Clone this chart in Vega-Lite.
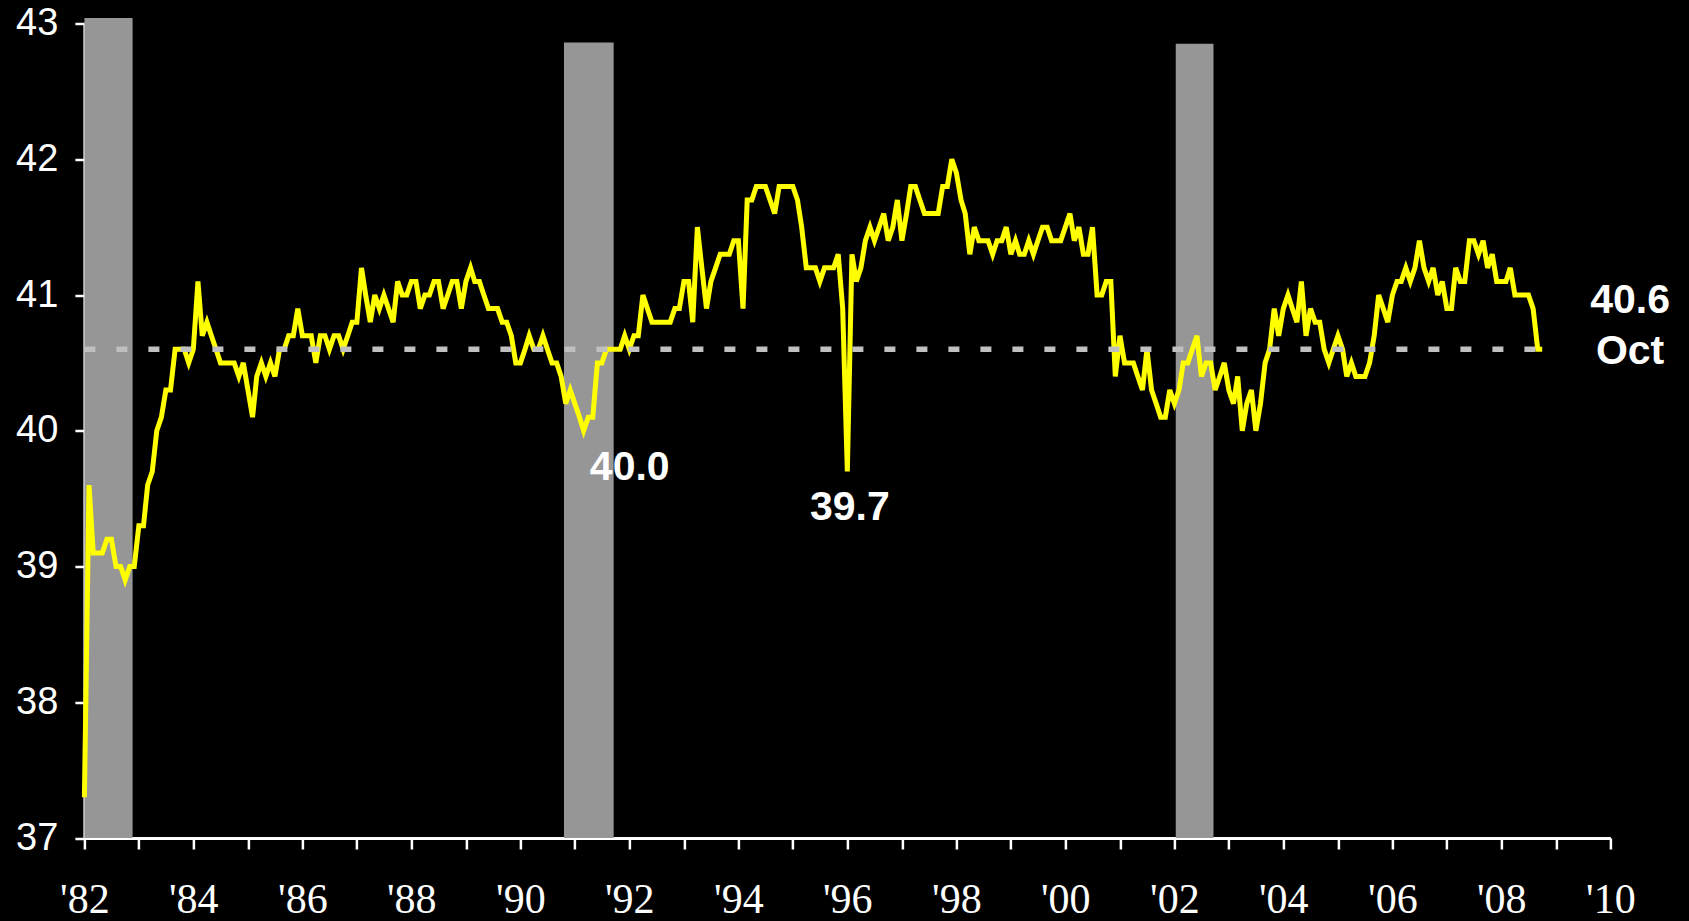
{
  "$schema": "https://vega.github.io/schema/vega-lite/v6.json",
  "width": 1526,
  "height": 814.5,
  "autosize": {"type": "none"},
  "padding": {"left": 84.4, "top": 23.5, "right": 78.6, "bottom": 83},
  "background": "#000000",
  "config": {"view": {"stroke": null}},
  "datasets": {
    "recessions": [
      {"start": "1982-01-01", "end": "1982-11-20", "top": 43.04},
      {"start": "1990-10-20", "end": "1991-09-18", "top": 42.86},
      {"start": "2002-01-10", "end": "2002-09-20", "top": 42.85}
    ],
    "hours": [
      {"d": "1982-01-01", "h": 37.3}, {"d": "1982-02-01", "h": 39.6}, {"d": "1982-03-01", "h": 39.1}, {"d": "1982-04-01", "h": 39.1}, {"d": "1982-05-01", "h": 39.1}, {"d": "1982-06-01", "h": 39.2}, {"d": "1982-07-01", "h": 39.2}, {"d": "1982-08-01", "h": 39.0}, {"d": "1982-09-01", "h": 39.0}, {"d": "1982-10-01", "h": 38.9}, {"d": "1982-11-01", "h": 39.0}, {"d": "1982-12-01", "h": 39.0},
      {"d": "1983-01-01", "h": 39.3}, {"d": "1983-02-01", "h": 39.3}, {"d": "1983-03-01", "h": 39.6}, {"d": "1983-04-01", "h": 39.7}, {"d": "1983-05-01", "h": 40.0}, {"d": "1983-06-01", "h": 40.1}, {"d": "1983-07-01", "h": 40.3}, {"d": "1983-08-01", "h": 40.3}, {"d": "1983-09-01", "h": 40.6}, {"d": "1983-10-01", "h": 40.6}, {"d": "1983-11-01", "h": 40.6}, {"d": "1983-12-01", "h": 40.5},
      {"d": "1984-01-01", "h": 40.6}, {"d": "1984-02-01", "h": 41.1}, {"d": "1984-03-01", "h": 40.7}, {"d": "1984-04-01", "h": 40.8}, {"d": "1984-05-01", "h": 40.7}, {"d": "1984-06-01", "h": 40.6}, {"d": "1984-07-01", "h": 40.5}, {"d": "1984-08-01", "h": 40.5}, {"d": "1984-09-01", "h": 40.5}, {"d": "1984-10-01", "h": 40.5}, {"d": "1984-11-01", "h": 40.4}, {"d": "1984-12-01", "h": 40.5},
      {"d": "1985-01-01", "h": 40.3}, {"d": "1985-02-01", "h": 40.1}, {"d": "1985-03-01", "h": 40.4}, {"d": "1985-04-01", "h": 40.5}, {"d": "1985-05-01", "h": 40.4}, {"d": "1985-06-01", "h": 40.5}, {"d": "1985-07-01", "h": 40.4}, {"d": "1985-08-01", "h": 40.6}, {"d": "1985-09-01", "h": 40.6}, {"d": "1985-10-01", "h": 40.7}, {"d": "1985-11-01", "h": 40.7}, {"d": "1985-12-01", "h": 40.9},
      {"d": "1986-01-01", "h": 40.7}, {"d": "1986-02-01", "h": 40.7}, {"d": "1986-03-01", "h": 40.7}, {"d": "1986-04-01", "h": 40.5}, {"d": "1986-05-01", "h": 40.7}, {"d": "1986-06-01", "h": 40.7}, {"d": "1986-07-01", "h": 40.6}, {"d": "1986-08-01", "h": 40.7}, {"d": "1986-09-01", "h": 40.7}, {"d": "1986-10-01", "h": 40.6}, {"d": "1986-11-01", "h": 40.7}, {"d": "1986-12-01", "h": 40.8},
      {"d": "1987-01-01", "h": 40.8}, {"d": "1987-02-01", "h": 41.2}, {"d": "1987-03-01", "h": 41.0}, {"d": "1987-04-01", "h": 40.8}, {"d": "1987-05-01", "h": 41.0}, {"d": "1987-06-01", "h": 40.9}, {"d": "1987-07-01", "h": 41.0}, {"d": "1987-08-01", "h": 40.9}, {"d": "1987-09-01", "h": 40.8}, {"d": "1987-10-01", "h": 41.1}, {"d": "1987-11-01", "h": 41.0}, {"d": "1987-12-01", "h": 41.0},
      {"d": "1988-01-01", "h": 41.1}, {"d": "1988-02-01", "h": 41.1}, {"d": "1988-03-01", "h": 40.9}, {"d": "1988-04-01", "h": 41.0}, {"d": "1988-05-01", "h": 41.0}, {"d": "1988-06-01", "h": 41.1}, {"d": "1988-07-01", "h": 41.1}, {"d": "1988-08-01", "h": 40.9}, {"d": "1988-09-01", "h": 41.0}, {"d": "1988-10-01", "h": 41.1}, {"d": "1988-11-01", "h": 41.1}, {"d": "1988-12-01", "h": 40.9},
      {"d": "1989-01-01", "h": 41.1}, {"d": "1989-02-01", "h": 41.2}, {"d": "1989-03-01", "h": 41.1}, {"d": "1989-04-01", "h": 41.1}, {"d": "1989-05-01", "h": 41.0}, {"d": "1989-06-01", "h": 40.9}, {"d": "1989-07-01", "h": 40.9}, {"d": "1989-08-01", "h": 40.9}, {"d": "1989-09-01", "h": 40.8}, {"d": "1989-10-01", "h": 40.8}, {"d": "1989-11-01", "h": 40.7}, {"d": "1989-12-01", "h": 40.5},
      {"d": "1990-01-01", "h": 40.5}, {"d": "1990-02-01", "h": 40.6}, {"d": "1990-03-01", "h": 40.7}, {"d": "1990-04-01", "h": 40.6}, {"d": "1990-05-01", "h": 40.6}, {"d": "1990-06-01", "h": 40.7}, {"d": "1990-07-01", "h": 40.6}, {"d": "1990-08-01", "h": 40.5}, {"d": "1990-09-01", "h": 40.5}, {"d": "1990-10-01", "h": 40.4}, {"d": "1990-11-01", "h": 40.2}, {"d": "1990-12-01", "h": 40.3},
      {"d": "1991-01-01", "h": 40.2}, {"d": "1991-02-01", "h": 40.1}, {"d": "1991-03-01", "h": 40.0}, {"d": "1991-04-01", "h": 40.1}, {"d": "1991-05-01", "h": 40.1}, {"d": "1991-06-01", "h": 40.5}, {"d": "1991-07-01", "h": 40.5}, {"d": "1991-08-01", "h": 40.6}, {"d": "1991-09-01", "h": 40.6}, {"d": "1991-10-01", "h": 40.6}, {"d": "1991-11-01", "h": 40.6}, {"d": "1991-12-01", "h": 40.7},
      {"d": "1992-01-01", "h": 40.6}, {"d": "1992-02-01", "h": 40.7}, {"d": "1992-03-01", "h": 40.7}, {"d": "1992-04-01", "h": 41.0}, {"d": "1992-05-01", "h": 40.9}, {"d": "1992-06-01", "h": 40.8}, {"d": "1992-07-01", "h": 40.8}, {"d": "1992-08-01", "h": 40.8}, {"d": "1992-09-01", "h": 40.8}, {"d": "1992-10-01", "h": 40.8}, {"d": "1992-11-01", "h": 40.9}, {"d": "1992-12-01", "h": 40.9},
      {"d": "1993-01-01", "h": 41.1}, {"d": "1993-02-01", "h": 41.1}, {"d": "1993-03-01", "h": 40.8}, {"d": "1993-04-01", "h": 41.5}, {"d": "1993-05-01", "h": 41.2}, {"d": "1993-06-01", "h": 40.9}, {"d": "1993-07-01", "h": 41.1}, {"d": "1993-08-01", "h": 41.2}, {"d": "1993-09-01", "h": 41.3}, {"d": "1993-10-01", "h": 41.3}, {"d": "1993-11-01", "h": 41.3}, {"d": "1993-12-01", "h": 41.4},
      {"d": "1994-01-01", "h": 41.4}, {"d": "1994-02-01", "h": 40.9}, {"d": "1994-03-01", "h": 41.7}, {"d": "1994-04-01", "h": 41.7}, {"d": "1994-05-01", "h": 41.8}, {"d": "1994-06-01", "h": 41.8}, {"d": "1994-07-01", "h": 41.8}, {"d": "1994-08-01", "h": 41.7}, {"d": "1994-09-01", "h": 41.6}, {"d": "1994-10-01", "h": 41.8}, {"d": "1994-11-01", "h": 41.8}, {"d": "1994-12-01", "h": 41.8},
      {"d": "1995-01-01", "h": 41.8}, {"d": "1995-02-01", "h": 41.7}, {"d": "1995-03-01", "h": 41.5}, {"d": "1995-04-01", "h": 41.2}, {"d": "1995-05-01", "h": 41.2}, {"d": "1995-06-01", "h": 41.2}, {"d": "1995-07-01", "h": 41.1}, {"d": "1995-08-01", "h": 41.2}, {"d": "1995-09-01", "h": 41.2}, {"d": "1995-10-01", "h": 41.2}, {"d": "1995-11-01", "h": 41.3}, {"d": "1995-12-01", "h": 40.9},
      {"d": "1996-01-01", "h": 39.7}, {"d": "1996-02-01", "h": 41.3}, {"d": "1996-03-01", "h": 41.1}, {"d": "1996-04-01", "h": 41.2}, {"d": "1996-05-01", "h": 41.4}, {"d": "1996-06-01", "h": 41.5}, {"d": "1996-07-01", "h": 41.4}, {"d": "1996-08-01", "h": 41.5}, {"d": "1996-09-01", "h": 41.6}, {"d": "1996-10-01", "h": 41.4}, {"d": "1996-11-01", "h": 41.5}, {"d": "1996-12-01", "h": 41.7},
      {"d": "1997-01-01", "h": 41.4}, {"d": "1997-02-01", "h": 41.6}, {"d": "1997-03-01", "h": 41.8}, {"d": "1997-04-01", "h": 41.8}, {"d": "1997-05-01", "h": 41.7}, {"d": "1997-06-01", "h": 41.6}, {"d": "1997-07-01", "h": 41.6}, {"d": "1997-08-01", "h": 41.6}, {"d": "1997-09-01", "h": 41.6}, {"d": "1997-10-01", "h": 41.8}, {"d": "1997-11-01", "h": 41.8}, {"d": "1997-12-01", "h": 42.0},
      {"d": "1998-01-01", "h": 41.9}, {"d": "1998-02-01", "h": 41.7}, {"d": "1998-03-01", "h": 41.6}, {"d": "1998-04-01", "h": 41.3}, {"d": "1998-05-01", "h": 41.5}, {"d": "1998-06-01", "h": 41.4}, {"d": "1998-07-01", "h": 41.4}, {"d": "1998-08-01", "h": 41.4}, {"d": "1998-09-01", "h": 41.3}, {"d": "1998-10-01", "h": 41.4}, {"d": "1998-11-01", "h": 41.4}, {"d": "1998-12-01", "h": 41.5},
      {"d": "1999-01-01", "h": 41.3}, {"d": "1999-02-01", "h": 41.4}, {"d": "1999-03-01", "h": 41.3}, {"d": "1999-04-01", "h": 41.3}, {"d": "1999-05-01", "h": 41.4}, {"d": "1999-06-01", "h": 41.3}, {"d": "1999-07-01", "h": 41.4}, {"d": "1999-08-01", "h": 41.5}, {"d": "1999-09-01", "h": 41.5}, {"d": "1999-10-01", "h": 41.4}, {"d": "1999-11-01", "h": 41.4}, {"d": "1999-12-01", "h": 41.4},
      {"d": "2000-01-01", "h": 41.5}, {"d": "2000-02-01", "h": 41.6}, {"d": "2000-03-01", "h": 41.4}, {"d": "2000-04-01", "h": 41.5}, {"d": "2000-05-01", "h": 41.3}, {"d": "2000-06-01", "h": 41.3}, {"d": "2000-07-01", "h": 41.5}, {"d": "2000-08-01", "h": 41.0}, {"d": "2000-09-01", "h": 41.0}, {"d": "2000-10-01", "h": 41.1}, {"d": "2000-11-01", "h": 41.1}, {"d": "2000-12-01", "h": 40.4},
      {"d": "2001-01-01", "h": 40.7}, {"d": "2001-02-01", "h": 40.5}, {"d": "2001-03-01", "h": 40.5}, {"d": "2001-04-01", "h": 40.5}, {"d": "2001-05-01", "h": 40.4}, {"d": "2001-06-01", "h": 40.3}, {"d": "2001-07-01", "h": 40.6}, {"d": "2001-08-01", "h": 40.3}, {"d": "2001-09-01", "h": 40.2}, {"d": "2001-10-01", "h": 40.1}, {"d": "2001-11-01", "h": 40.1}, {"d": "2001-12-01", "h": 40.3},
      {"d": "2002-01-01", "h": 40.2}, {"d": "2002-02-01", "h": 40.3}, {"d": "2002-03-01", "h": 40.5}, {"d": "2002-04-01", "h": 40.5}, {"d": "2002-05-01", "h": 40.6}, {"d": "2002-06-01", "h": 40.7}, {"d": "2002-07-01", "h": 40.4}, {"d": "2002-08-01", "h": 40.5}, {"d": "2002-09-01", "h": 40.5}, {"d": "2002-10-01", "h": 40.3}, {"d": "2002-11-01", "h": 40.4}, {"d": "2002-12-01", "h": 40.5},
      {"d": "2003-01-01", "h": 40.3}, {"d": "2003-02-01", "h": 40.2}, {"d": "2003-03-01", "h": 40.4}, {"d": "2003-04-01", "h": 40.0}, {"d": "2003-05-01", "h": 40.2}, {"d": "2003-06-01", "h": 40.3}, {"d": "2003-07-01", "h": 40.0}, {"d": "2003-08-01", "h": 40.2}, {"d": "2003-09-01", "h": 40.5}, {"d": "2003-10-01", "h": 40.6}, {"d": "2003-11-01", "h": 40.9}, {"d": "2003-12-01", "h": 40.7},
      {"d": "2004-01-01", "h": 40.9}, {"d": "2004-02-01", "h": 41.0}, {"d": "2004-03-01", "h": 40.9}, {"d": "2004-04-01", "h": 40.8}, {"d": "2004-05-01", "h": 41.1}, {"d": "2004-06-01", "h": 40.7}, {"d": "2004-07-01", "h": 40.9}, {"d": "2004-08-01", "h": 40.8}, {"d": "2004-09-01", "h": 40.8}, {"d": "2004-10-01", "h": 40.6}, {"d": "2004-11-01", "h": 40.5}, {"d": "2004-12-01", "h": 40.6},
      {"d": "2005-01-01", "h": 40.7}, {"d": "2005-02-01", "h": 40.6}, {"d": "2005-03-01", "h": 40.4}, {"d": "2005-04-01", "h": 40.5}, {"d": "2005-05-01", "h": 40.4}, {"d": "2005-06-01", "h": 40.4}, {"d": "2005-07-01", "h": 40.4}, {"d": "2005-08-01", "h": 40.5}, {"d": "2005-09-01", "h": 40.7}, {"d": "2005-10-01", "h": 41.0}, {"d": "2005-11-01", "h": 40.9}, {"d": "2005-12-01", "h": 40.8},
      {"d": "2006-01-01", "h": 41.0}, {"d": "2006-02-01", "h": 41.1}, {"d": "2006-03-01", "h": 41.1}, {"d": "2006-04-01", "h": 41.2}, {"d": "2006-05-01", "h": 41.1}, {"d": "2006-06-01", "h": 41.2}, {"d": "2006-07-01", "h": 41.4}, {"d": "2006-08-01", "h": 41.2}, {"d": "2006-09-01", "h": 41.1}, {"d": "2006-10-01", "h": 41.2}, {"d": "2006-11-01", "h": 41.0}, {"d": "2006-12-01", "h": 41.1},
      {"d": "2007-01-01", "h": 40.9}, {"d": "2007-02-01", "h": 40.9}, {"d": "2007-03-01", "h": 41.2}, {"d": "2007-04-01", "h": 41.1}, {"d": "2007-05-01", "h": 41.1}, {"d": "2007-06-01", "h": 41.4}, {"d": "2007-07-01", "h": 41.4}, {"d": "2007-08-01", "h": 41.3}, {"d": "2007-09-01", "h": 41.4}, {"d": "2007-10-01", "h": 41.2}, {"d": "2007-11-01", "h": 41.3}, {"d": "2007-12-01", "h": 41.1},
      {"d": "2008-01-01", "h": 41.1}, {"d": "2008-02-01", "h": 41.1}, {"d": "2008-03-01", "h": 41.2}, {"d": "2008-04-01", "h": 41.0}, {"d": "2008-05-01", "h": 41.0}, {"d": "2008-06-01", "h": 41.0}, {"d": "2008-07-01", "h": 41.0}, {"d": "2008-08-01", "h": 40.9}, {"d": "2008-09-01", "h": 40.6}, {"d": "2008-10-01", "h": 40.6}
    ],
    "reference": [
      {"start": "1982-01-01", "end": "2008-10-01", "v": 40.6}
    ],
    "labels": [
      {"d": "1992-01-04", "v": 39.64, "label": "40.0"},
      {"d": "1996-01-18", "v": 39.34, "label": "39.7"},
      {"d": "2010-05-13", "v": 40.87, "label": "40.6"},
      {"d": "2010-05-13", "v": 40.49, "label": "Oct"}
    ]
  },
  "layer": [
    {
      "data": {"name": "recessions"},
      "mark": {"type": "rect", "color": "#969696"},
      "encoding": {
        "x": {
          "field": "start", "type": "temporal",
          "scale": {"type": "utc", "domain": [{"year": 1982, "month": 1, "date": 1, "utc": true}, {"year": 2010, "month": 1, "date": 1, "utc": true}]},
          "axis": {
            "title": null, "grid": false,
            "tickCount": {"interval": "year", "step": 1},
            "labelExpr": "utcyear(datum.value) % 2 === 0 ? utcFormat(datum.value, \"'%y\") : ''",
            "domainColor": "#ffffff", "domainWidth": 3,
            "tickColor": "#ffffff", "tickWidth": 2.5, "tickSize": 11,
            "labelColor": "#ffffff", "labelFont": "Liberation Sans Narrow", "labelFontSize": 42,
            "labelPadding": 30, "labelOverlap": false, "labelFlush": false, "labelBound": false
          }
        },
        "x2": {"field": "end"},
        "y": {
          "field": "top", "type": "quantitative",
          "scale": {"domain": [37, 43], "nice": false, "zero": false},
          "axis": {
            "title": null, "grid": false,
            "values": [37, 38, 39, 40, 41, 42, 43], "format": "d",
            "domainColor": "#ffffff", "domainWidth": 3,
            "tickColor": "#ffffff", "tickWidth": 2.5, "tickSize": 9.5,
            "labelColor": "#ffffff", "labelFont": "Liberation Sans", "labelFontSize": 38,
            "labelPadding": 17, "labelOverlap": false, "labelFlush": false, "labelBound": false
          }
        },
        "y2": {"datum": 37}
      }
    },
    {
      "data": {"name": "hours"},
      "mark": {"type": "line", "color": "#ffff00", "strokeWidth": 5},
      "encoding": {
        "x": {"field": "d", "type": "temporal"},
        "y": {"field": "h", "type": "quantitative"}
      }
    },
    {
      "data": {"name": "reference"},
      "mark": {"type": "rule", "color": "#c0c0c0", "strokeWidth": 5.5, "strokeDash": [11, 21]},
      "encoding": {
        "x": {"field": "start", "type": "temporal"},
        "x2": {"field": "end"},
        "y": {"field": "v", "type": "quantitative"}
      }
    },
    {
      "data": {"name": "labels"},
      "mark": {"type": "text", "color": "#ffffff", "font": "Liberation Sans", "fontWeight": "bold", "fontSize": 41, "align": "center", "baseline": "alphabetic"},
      "encoding": {
        "x": {"field": "d", "type": "temporal"},
        "y": {"field": "v", "type": "quantitative"},
        "text": {"field": "label"}
      }
    }
  ]
}
